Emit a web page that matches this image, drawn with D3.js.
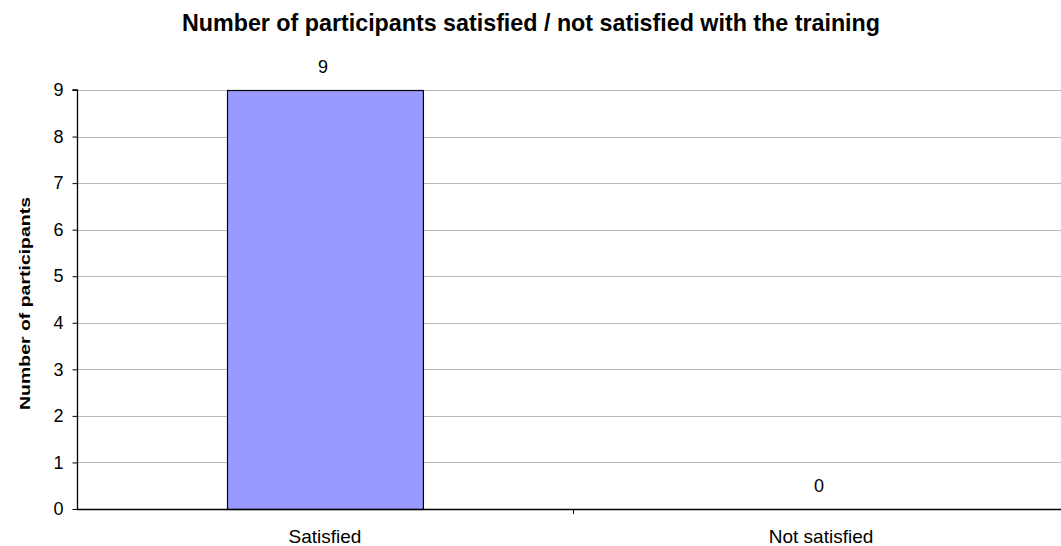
<!DOCTYPE html>
<html>
<head>
<meta charset="utf-8">
<script src="https://cdn.jsdelivr.net/npm/d3@7"></script>
<style>
  html, body { margin: 0; padding: 0; background: #fff; }
  svg { display: block; }
  text { font-family: "Liberation Sans", Arial, sans-serif; fill: #000; }
</style>
</head>
<body>
<svg id="chart" width="1061" height="546"></svg>
<script>
const categories = ["Satisfied", "Not satisfied"];
const values = [9, 0];
const yTicks = [0, 1, 2, 3, 4, 5, 6, 7, 8, 9];
const titleText = "Number of participants satisfied / not satisfied with the training";
const yLabelText = "Number of participants";

const svg = d3.select("#chart");
const plotLeft = 77, plotRight = 1069, plotTop = 90, plotBottom = 509;

const x = d3.scaleBand().domain(categories).range([plotLeft, plotRight])
  .paddingInner(0.605).paddingOuter(0.3025);
const step = x.step();
const y = d3.scaleLinear().domain([0, 9]).range([plotBottom, plotTop]);

// gridlines
svg.append("g").selectAll("line").data(yTicks.filter(d => d > 0)).join("line")
  .attr("x1", plotLeft).attr("x2", 1061)
  .attr("y1", d => Math.round(y(d)) + 0.5).attr("y2", d => Math.round(y(d)) + 0.5)
  .attr("stroke", "#b8b8b8").attr("stroke-width", 1);

// bars
svg.append("g").selectAll("rect").data(categories).join("rect")
  .attr("x", (d) => Math.round(x(d)) + 0.5)
  .attr("y", (d, i) => Math.round(y(values[i])) + 0.5)
  .attr("width", x.bandwidth())
  .attr("height", (d, i) => y(0) - y(values[i]))
  .attr("fill", "#9999ff")
  .attr("stroke", "#000").attr("stroke-width", 1.2)
  .style("display", (d, i) => values[i] > 0 ? null : "none");

// y axis
const yAxis = d3.axisLeft(y).tickValues(yTicks).tickSize(5).tickPadding(9).tickFormat(d3.format("d"));
const gy = svg.append("g").attr("transform", `translate(${plotLeft + 0.5},0)`).call(yAxis);
gy.select(".domain").attr("stroke", "#000").attr("stroke-width", 1.3).attr("d", `M-5,${y(9)}H0V${y(0)}`);
gy.selectAll(".tick line").attr("stroke", "#000");
gy.selectAll(".tick text").style("font-family", "'Liberation Sans', Arial, sans-serif").style("font-size", "18px").attr("fill", "#000");

// x axis line
svg.append("line").attr("x1", plotLeft).attr("x2", 1061)
  .attr("y1", plotBottom + 0.5).attr("y2", plotBottom + 0.5)
  .attr("stroke", "#000").attr("stroke-width", 1.3);
// category boundary ticks
const bounds = categories.map((d, i) => plotLeft + (i + 1) * step);
svg.append("g").selectAll("line").data(bounds).join("line")
  .attr("x1", d => Math.round(d) + 0.5).attr("x2", d => Math.round(d) + 0.5)
  .attr("y1", plotBottom).attr("y2", plotBottom + 5).attr("stroke", "#000");

// category labels
svg.append("g").selectAll("text").data(categories).join("text")
  .attr("x", d => x(d) + x.bandwidth() / 2)
  .attr("y", 543)
  .attr("text-anchor", "middle")
  .style("font-size", "19px")
  .text(d => d);

// value labels
svg.append("g").selectAll("text").data(categories).join("text")
  .attr("x", d => x(d) + x.bandwidth() / 2 - 2)
  .attr("y", (d, i) => y(values[i]) - 17)
  .attr("text-anchor", "middle")
  .style("font-size", "18px")
  .text((d, i) => values[i]);

// title
svg.append("text")
  .attr("x", 531).attr("y", 31)
  .attr("text-anchor", "middle")
  .style("font-family", "'Liberation Sans Narrow', 'Arial Narrow', 'Liberation Sans', Arial, sans-serif")
  .style("font-size", "24px").style("font-weight", "bold")
  .attr("textLength", 698).attr("lengthAdjust", "spacingAndGlyphs")
  .text(titleText);

// y label
svg.append("text")
  .attr("transform", `translate(30,303.5) rotate(-90)`)
  .attr("text-anchor", "middle")
  .style("font-size", "15px").style("font-weight", "bold")
  .attr("textLength", 213).attr("lengthAdjust", "spacingAndGlyphs")
  .text(yLabelText);
</script>
</body>
</html>
